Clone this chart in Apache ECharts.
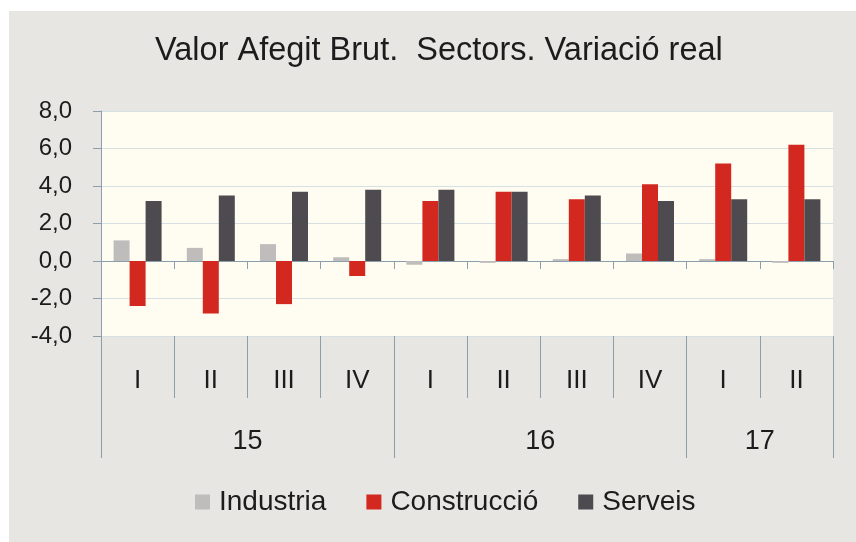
<!DOCTYPE html>
<html>
<head>
    <meta charset="utf-8">
    <title>Valor Afegit Brut</title>
    <script src="https://cdn.jsdelivr.net/npm/echarts@6/dist/echarts.min.js"></script>
    <style>
        html, body { margin: 0; padding: 0; background: #ffffff; }
        #bg { position: absolute; left: 9px; top: 11px; right: 0; bottom: 0; background: #e7e6e2; }
        #chart { position: absolute; left: 0; top: 0; width: 856px; height: 542px; }
    </style>
</head>
<body>
    <div id="bg"></div>
    <div id="chart"></div>
    <script type="text/javascript">
        // dades
        var quarters = ['I', 'II', 'III', 'IV', 'I', 'II', 'III', 'IV', 'I', 'II'];
        var years = ['15', '16', '17'];
        var yearQuarters = [4, 4, 2];
        var industria = [1.1, 0.7, 0.9, 0.2, -0.2, -0.1, 0.1, 0.4, 0.1, -0.1];
        var construccio = [-2.4, -2.8, -2.3, -0.8, 3.2, 3.7, 3.3, 4.1, 5.2, 6.2];
        var serveis = [3.2, 3.5, 3.7, 3.8, 3.8, 3.7, 3.5, 3.2, 3.3, 3.3];

        var yearStarts = {}, yearCenters = {};
        var pos = 0;
        years.forEach(function (y, i) {
            yearStarts[pos] = true;
            yearCenters[pos + yearQuarters[i] / 2] = y;
            pos += yearQuarters[i];
        });

        var font = 'Liberation Sans, Arial, sans-serif';
        var lineCol = '#8a9fab';

        var myChart = echarts.init(document.getElementById('chart'));
        myChart.setOption({
            backgroundColor: 'transparent',
            animation: false,
            title: {
                text: 'Valor Afegit Brut.  Sectors. Variació real',
                left: 155,
                top: 35,
                padding: 0,
                textStyle: { fontFamily: font, fontSize: 32.5, fontWeight: 'normal', color: '#1c1c1c' }
            },
            legend: {
                left: 195,
                top: 488,
                padding: 0,
                itemWidth: 15,
                itemHeight: 15,
                itemGap: 40,
                icon: 'rect',
                textStyle: { fontFamily: font, fontSize: 28, color: '#1c1c1c', padding: [0, 0, 0, 4] },
                data: ['Industria', 'Construcció', 'Serveis']
            },
            grid: {
                left: 101, top: 111, width: 732, height: 225,
                show: true, backgroundColor: '#fffdf1', borderWidth: 0
            },
            yAxis: {
                type: 'value',
                min: -4, max: 8, interval: 2,
                axisLine: { show: true, lineStyle: { color: lineCol } },
                axisTick: { show: true, length: 8, lineStyle: { color: lineCol } },
                axisLabel: {
                    margin: 29, fontFamily: font, fontSize: 24, color: '#1c1c1c',
                    formatter: function (v) { return v.toFixed(1).replace('.', ','); }
                },
                splitLine: { lineStyle: { color: '#d6e0e3' } }
            },
            xAxis: [
                {
                    type: 'category', data: quarters,
                    axisLine: { onZero: true, lineStyle: { color: lineCol } },
                    axisTick: { show: true, length: 8, interval: 0, lineStyle: { color: lineCol } },
                    axisLabel: { show: false }
                },
                {
                    type: 'category', data: quarters, position: 'bottom',
                    axisLine: { show: false, onZero: false },
                    axisTick: { show: true, length: 62, interval: 0, lineStyle: { color: lineCol } },
                    axisLabel: { margin: 32, interval: 0, fontFamily: font, fontSize: 26, color: '#1c1c1c' }
                },
                {
                    type: 'category', data: quarters, position: 'bottom',
                    axisLine: { show: false, onZero: false },
                    axisTick: {
                        show: true, length: 122, lineStyle: { color: lineCol },
                        interval: function (idx) { return !!yearStarts[idx]; }
                    },
                    axisLabel: { show: false }
                },
                {
                    type: 'value', position: 'bottom', min: 0, max: quarters.length, interval: 1,
                    axisLine: { show: false, onZero: false },
                    axisTick: { show: false },
                    splitLine: { show: false },
                    axisLabel: {
                        margin: 92, fontFamily: font, fontSize: 27, color: '#1c1c1c',
                        formatter: function (v) { return yearCenters[v] || ''; }
                    }
                }
            ],
            series: [
                { name: 'Industria', type: 'bar', xAxisIndex: 0, data: industria, barWidth: 16, barGap: '0%', itemStyle: { color: '#bfbdbc' } },
                { name: 'Construcció', type: 'bar', xAxisIndex: 0, data: construccio, barWidth: 16, barGap: '0%', itemStyle: { color: '#d2281f' } },
                { name: 'Serveis', type: 'bar', xAxisIndex: 0, data: serveis, barWidth: 16, barGap: '0%', itemStyle: { color: '#4e4b50' } }
            ]
        });
    </script>
</body>
</html>
